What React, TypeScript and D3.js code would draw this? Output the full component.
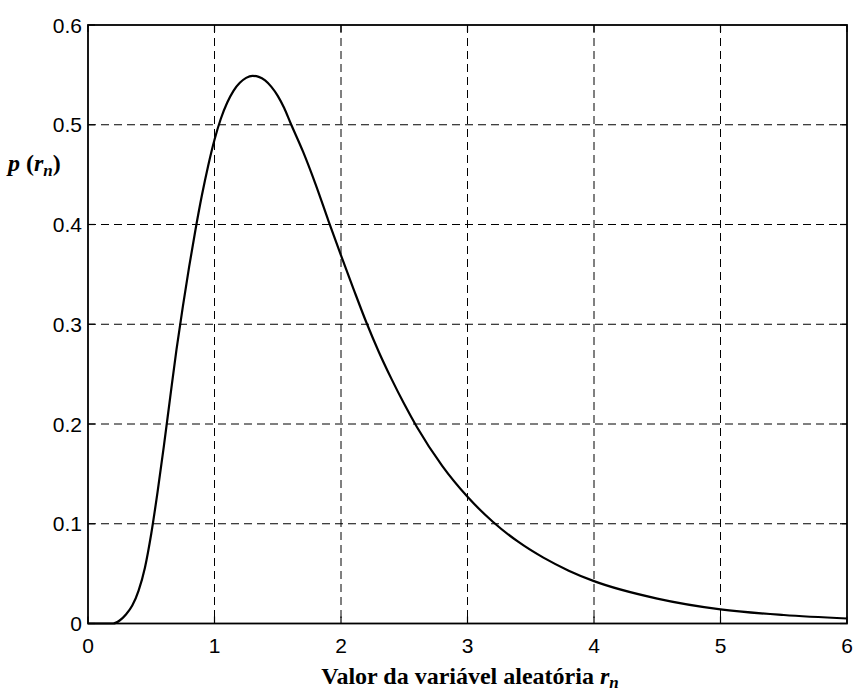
import React from "react";
import * as d3 from "d3";

const rValues = [0, 0.2, 0.25, 0.3, 0.35, 0.4, 0.45, 0.5, 0.55, 0.6, 0.65, 0.7, 0.75, 0.8, 0.85, 0.9, 0.95, 1.0, 1.05, 1.1, 1.15, 1.2, 1.25, 1.3, 1.35, 1.4, 1.45, 1.5, 1.55, 1.6, 1.7, 1.8, 1.9, 2.0, 2.1, 2.2, 2.3, 2.4, 2.5, 2.6, 2.8, 3.0, 3.2, 3.4, 3.6, 3.8, 4.0, 4.5, 5.0, 5.5, 6.0];
const pValues = [0, 0, 0.003, 0.009, 0.018, 0.033, 0.056, 0.09, 0.132, 0.178, 0.227, 0.275, 0.318, 0.358, 0.395, 0.429, 0.459, 0.485, 0.506, 0.522, 0.534, 0.542, 0.547, 0.549, 0.548, 0.5445, 0.538, 0.529, 0.517, 0.502, 0.473, 0.44, 0.404, 0.369, 0.335, 0.302, 0.272, 0.245, 0.22, 0.197, 0.158, 0.127, 0.102, 0.082, 0.066, 0.053, 0.0425, 0.025, 0.0142, 0.0085, 0.005];

const xTicks = [0, 1, 2, 3, 4, 5, 6];
const xTickLabels = ["0", "1", "2", "3", "4", "5", "6"];
const yTicks = [0, 0.1, 0.2, 0.3, 0.4, 0.5, 0.6];
const yTickLabels = ["0", "0.1", "0.2", "0.3", "0.4", "0.5", "0.6"];

const W = 855;
const H = 693;
const L = 88, R = 847, T = 25, B = 623.5;

export default function App() {
  const x = d3.scaleLinear().domain([0, 6]).range([L, R]);
  const y = d3.scaleLinear().domain([0, 0.6]).range([B, T]);
  const pts: [number, number][] = rValues.map((r, i) => [r, pValues[i]]);
  const line = d3
    .line<[number, number]>()
    .x((d) => x(d[0]))
    .y((d) => y(d[1]))
    .curve(d3.curveMonotoneX);
  const tickLen = 7;
  const sans = "'Liberation Sans', Arial, sans-serif";
  const serif = "'Liberation Serif', 'Times New Roman', serif";
  return (
    <svg width={W} height={H} style={{ position: "absolute", left: 0, top: 0, background: "#fff" }}>
      <rect x={0} y={0} width={W} height={H} fill="#fff" />
      {xTicks.slice(1, -1).map((t) => (
        <line key={"gx" + t} x1={x(t)} x2={x(t)} y1={T} y2={B} stroke="#000" strokeWidth={1} strokeDasharray="8,5" />
      ))}
      {yTicks.slice(1, -1).map((t) => (
        <line key={"gy" + t} x1={L} x2={R} y1={y(t)} y2={y(t)} stroke="#000" strokeWidth={1} strokeDasharray="8,5" />
      ))}
      {xTicks.map((t) => (
        <g key={"tx" + t}>
          <line x1={x(t)} x2={x(t)} y1={B} y2={B - tickLen} stroke="#000" strokeWidth={1.2} />
          <line x1={x(t)} x2={x(t)} y1={T} y2={T + tickLen} stroke="#000" strokeWidth={1.2} />
        </g>
      ))}
      {yTicks.map((t) => (
        <g key={"ty" + t}>
          <line x1={L} x2={L + tickLen} y1={y(t)} y2={y(t)} stroke="#000" strokeWidth={1.2} />
          <line x1={R} x2={R - tickLen} y1={y(t)} y2={y(t)} stroke="#000" strokeWidth={1.2} />
        </g>
      ))}
      <path d={line(pts) || ""} fill="none" stroke="#000" strokeWidth={2.2} strokeLinejoin="round" />
      <rect x={L} y={T} width={R - L} height={B - T} fill="none" stroke="#000" strokeWidth={1.8} />
      {xTicks.map((t, i) => (
        <text key={"lx" + t} x={x(t)} y={653} textAnchor="middle" fontFamily={sans} fontSize={21} fill="#000">
          {xTickLabels[i]}
        </text>
      ))}
      {yTicks.map((t, i) => (
        <text key={"ly" + t} x={82} y={y(t) + 7.5} textAnchor="end" fontFamily={sans} fontSize={21} fill="#000">
          {yTickLabels[i]}
        </text>
      ))}
      <text x={470} y={684} textAnchor="middle" fontFamily={serif} fontSize={24} fontWeight="bold" fill="#000">
        Valor da variável aleatória{" "}
        <tspan fontStyle="italic">r</tspan>
        <tspan fontStyle="italic" fontSize={17} dy={4}>n</tspan>
      </text>
      <text x={8} y={171} fontFamily={serif} fontSize={24} fontWeight="bold" fill="#000">
        <tspan fontStyle="italic">p</tspan>
        <tspan> (</tspan>
        <tspan fontStyle="italic">r</tspan>
        <tspan fontStyle="italic" fontSize={17} dy={5}>n</tspan>
        <tspan dy={-5}>)</tspan>
      </text>
    </svg>
  );
}
